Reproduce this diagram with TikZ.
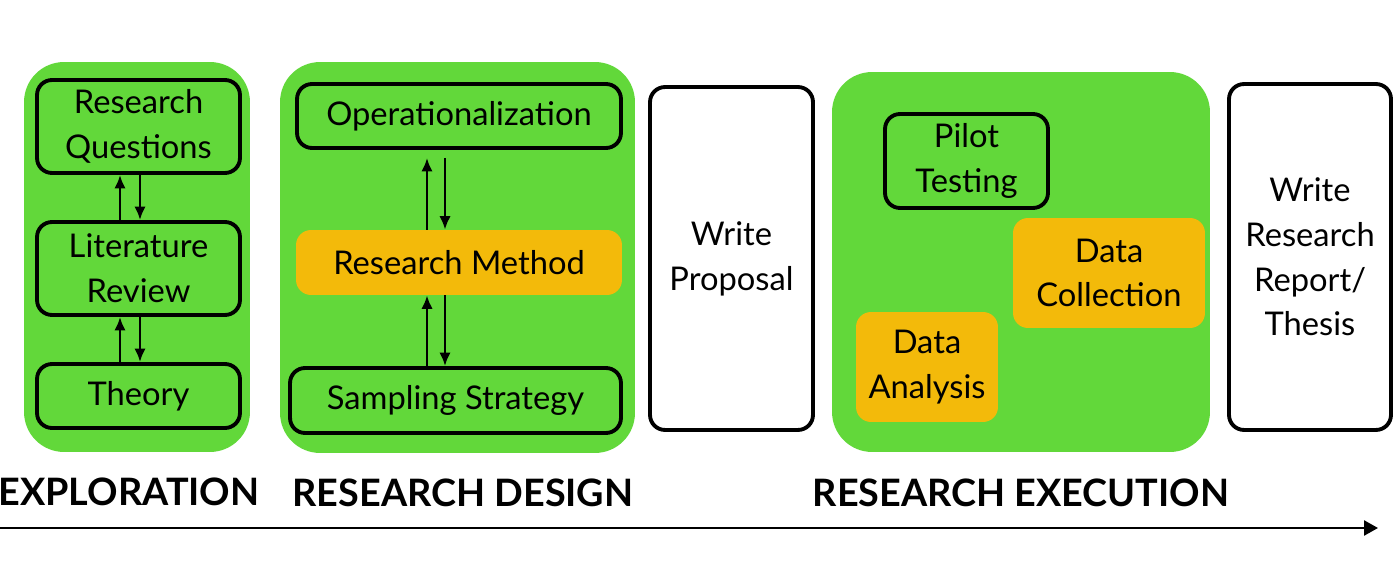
\documentclass[tikz,border=0pt]{standalone}
\usepackage{fontspec}
\setmainfont{Lato}
\usetikzlibrary{arrows.meta, positioning}
\definecolor{phasegreen}{RGB}{98,216,58}
\definecolor{taskorange}{RGB}{243,186,10}
\tikzset{
    phase/.style={fill=phasegreen, rounded corners=0.8cm, inner sep=0pt},
    task/.style={draw=black, line width=2.2pt, rounded corners=0.3cm, fill=phasegreen,
        align=center, inner sep=0pt, font=\fontsize{18.6}{25.5}\selectfont},
    keytask/.style={fill=taskorange, rounded corners=0.3cm, draw=none,
        align=center, inner sep=0pt, font=\fontsize{18.6}{25.5}\selectfont},
    report/.style={task, fill=white},
    phaselabel/.style={font=\fontsize{21.5}{25}\selectfont\bfseries, inner sep=0pt},
    loop/.style={-{Latex[length=0.27cm,width=0.23cm]}, line width=1.6pt},
    timeline/.style={-{Triangle[length=0.28cm,width=0.3cm]}, line width=1.4pt}
}
\begin{document}
\begin{tikzpicture}[x=0.02cm, y=-0.02cm]
    \useasboundingbox (0,0) rectangle (1400,564);
    % exploration
    \node[phase, minimum width=4.52cm, minimum height=7.8cm] (explore) at (137,257) {};
    \node[task, minimum width=4.06cm, minimum height=1.86cm] (rq) at (138.5,126.5) {Research\\Questions};
    \node[task, minimum width=4.06cm, minimum height=1.86cm] (lr) at (138.5,268.5) {Literature\\Review};
    \node[task, minimum width=4.06cm, minimum height=1.28cm] (th) at (138.5,396) {Theory};
    \draw[loop] ([xshift=-0.37cm]lr.north) -- ([xshift=-0.37cm]rq.south);
    \draw[loop] ([xshift=0.03cm]rq.south) -- ([xshift=0.03cm]lr.north);
    \draw[loop] ([xshift=-0.37cm]th.north) -- ([xshift=-0.37cm]lr.south);
    \draw[loop] ([xshift=0.03cm]lr.south) -- ([xshift=0.03cm]th.north);
    % research design
    \node[phase, minimum width=7.1cm, minimum height=7.82cm] (design) at (457.5,257.5) {};
    \node[task, minimum width=6.48cm, minimum height=1.28cm] (op) at (459,116) {Operationalization};
    \node[keytask, minimum width=6.52cm, minimum height=1.3cm] (rm) at (459,262.5) {Research Method};
    \node[task, minimum width=6.62cm, minimum height=1.3cm] (ss) at (455.5,400.5) {Sampling Strategy};
    \draw[loop, shorten >=0.16cm] ([xshift=-0.64cm]rm.north) -- ([xshift=-0.64cm]op.south);
    \draw[loop, shorten <=0.16cm] ([xshift=-0.28cm]op.south) -- ([xshift=-0.28cm]rm.north);
    \draw[loop] ([xshift=-0.64cm]rm.south |- ss.north) -- ([xshift=-0.64cm]rm.south);
    \draw[loop] ([xshift=-0.28cm]rm.south) -- ([xshift=-0.28cm]rm.south |- ss.north);
    % proposal
    \node[report, minimum width=3.26cm, minimum height=6.86cm] (wp) at (731.5,258.5) {Write\\Proposal};
    % research execution
    \node[phase, minimum width=7.56cm, minimum height=7.6cm] (execute) at (1021,262) {};
    \node[task, minimum width=3.26cm, minimum height=1.88cm] (pt) at (966.5,161) {Pilot\\Testing};
    \node[keytask, minimum width=3.84cm, minimum height=2.2cm] (dc) at (1109,273) {Data\\Collection};
    \node[keytask, minimum width=2.84cm, minimum height=2.2cm] (da) at (927,367) {Data\\Analysis};
    % thesis
    \node[report, minimum width=3.24cm, minimum height=6.92cm] (wr) at (1310,257) {Write\\Research\\Report/\\Thesis};
    % phases along the time line
    \node[phaselabel] (l1) at (129,492) {EXPLORATION};
    \node[phaselabel] (l2) at (463,493) {RESEARCH DESIGN};
    \node[phaselabel] (l3) at (1021,493) {RESEARCH EXECUTION};
    \coordinate (t0) at (0,528);
    \coordinate (t1) at (1378,528);
    \draw[timeline] (t0) -- (t1);
\end{tikzpicture}
\end{document}
